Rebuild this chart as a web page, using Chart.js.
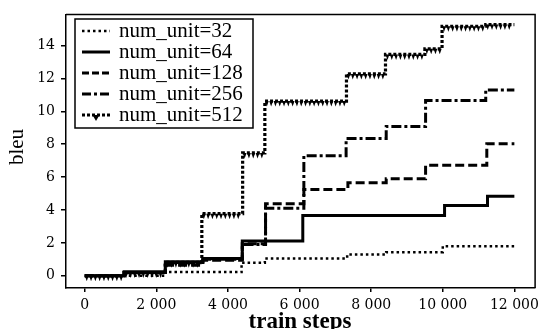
<!DOCTYPE html>
<html>
<head>
<meta charset="utf-8">
<script src="https://cdn.jsdelivr.net/npm/chart.js@4.4.1/dist/chart.umd.min.js"></script>
<style>
  html, body { margin: 0; padding: 0; background: #fff; }
  #wrap { width: 544px; height: 329px; position: relative; }
</style>
</head>
<body>
<div id="wrap"><canvas id="chart"></canvas></div>
<script>
// legend labels, one per model size
const seriesNames = ['num_unit=32', 'num_unit=64', 'num_unit=128', 'num_unit=256', 'num_unit=512'];

// train step where each bleu level starts (last entry closes the line at 12000)
const steps32 = [0, 2250, 4380, 5030, 7330, 8420, 10000, 12000];
const bleu32 = [0, 0.23, 0.8, 1.06, 1.3, 1.44, 1.8, 1.8];

const steps64 = [0, 1100, 2250, 3300, 4400, 6090, 10050, 11250, 12000];
const bleu64 = [0, 0.25, 0.85, 1.05, 2.12, 3.66, 4.28, 4.83, 4.83];

const steps128 = [0, 1100, 2250, 3300, 4400, 5050, 6120, 7350, 8420, 9520, 11230, 12000];
const bleu128 = [0, 0.2, 0.65, 0.95, 1.95, 4.38, 5.25, 5.66, 5.9, 6.72, 8.03, 8.03];

const steps256 = [0, 1100, 2250, 3300, 4400, 5050, 6120, 7300, 8420, 9520, 11200, 12000];
const bleu256 = [0, 0.2, 0.8, 1.0, 1.9, 4.1, 7.3, 8.34, 9.08, 10.65, 11.3, 11.3];

const steps512 = [0, 1100, 2250, 3270, 4410, 5030, 7310, 8400, 9500, 9980, 11200, 12000];
const bleu512 = [0, 0.2, 0.82, 3.78, 7.47, 10.62, 12.27, 13.46, 13.8, 15.17, 15.27, 15.27];

const xTicks = [0, 2000, 4000, 6000, 8000, 10000, 12000];
const yTicks = [0, 2, 4, 6, 8, 10, 12, 14];
const xTitle = 'train steps';
const yTitle = 'bleu';

const allSteps = [steps32, steps64, steps128, steps256, steps512];
const allBleu = [bleu32, bleu64, bleu128, bleu256, bleu512];

// line look per series (same order as seriesNames)
const lineStyles = [
  { borderDash: [2.5, 3], borderWidth: 2.5 },
  { borderDash: [], borderWidth: 3 },
  { borderDash: [9, 4], borderWidth: 3 },
  { borderDash: [10, 3, 3, 3], borderWidth: 3 },
  { borderDash: [3, 2], borderWidth: 3.2 },
];

const datasets = seriesNames.map((name, i) => ({
  label: name,
  data: allSteps[i].map((x, j) => ({ x: x, y: allBleu[i][j] })),
  stepped: true,
  borderColor: '#000',
  borderWidth: lineStyles[i].borderWidth,
  borderDash: lineStyles[i].borderDash,
  borderCapStyle: 'butt',
  pointRadius: 0,
  fill: false,
}));

const fmtThousands = v => String(v).replace(/\B(?=(\d{3})+(?!\d))/g, ' ');

// comb of little triangles under the 512 line
function drawComb(ctx, x0, x1, y) {
  for (let x = x0; x < x1; x += 4.3) {
    ctx.beginPath();
    ctx.moveTo(x - 1.9, y);
    ctx.lineTo(x + 1.9, y);
    ctx.lineTo(x, y + 5.5);
    ctx.closePath();
    ctx.fill();
  }
}

function sampleLine(ctx, i, x0, x1, y) {
  ctx.save();
  ctx.strokeStyle = '#000';
  ctx.lineWidth = i === 0 ? 2.5 : 3;
  const dashes = [[2.5, 3], [], [7, 3], [9, 3, 3, 3], [3, 2]];
  ctx.setLineDash(dashes[i]);
  ctx.beginPath();
  ctx.moveTo(x0, y);
  ctx.lineTo(x1, y);
  ctx.stroke();
  if (i === 4) {
    ctx.setLineDash([]);
    ctx.fillStyle = '#000';
    const cx = (x0 + x1) / 2;
    ctx.beginPath();
    ctx.moveTo(cx - 3.5, y);
    ctx.lineTo(cx + 3.5, y);
    ctx.lineTo(cx, y + 6);
    ctx.closePath();
    ctx.fill();
  }
  ctx.restore();
}

const framePlugin = {
  id: 'framePlugin',
  afterDatasetsDraw(chart) {
    const { ctx, chartArea: a } = chart;
    const pts = chart.getDatasetMeta(4).data;
    ctx.save();
    ctx.beginPath();
    ctx.rect(a.left, a.top, a.right - a.left, a.bottom - a.top);
    ctx.clip();
    ctx.fillStyle = '#000';
    for (let i = 0; i < pts.length - 1; i++) {
      drawComb(ctx, pts[i].x + 2, pts[i + 1].x - 1, pts[i].y);
    }
    ctx.restore();
  },
  afterDraw(chart) {
    const { ctx, chartArea: a } = chart;
    ctx.save();
    // top and right edges of the box
    ctx.strokeStyle = '#000';
    ctx.lineWidth = 1.5;
    ctx.beginPath();
    ctx.moveTo(a.left, a.top);
    ctx.lineTo(a.right, a.top);
    ctx.lineTo(a.right, a.bottom);
    ctx.stroke();

    // legend
    ctx.fillStyle = '#fff';
    ctx.fillRect(75, 19, 178, 109);
    ctx.strokeRect(75, 19, 178, 109);
    ctx.fillStyle = '#000';
    ctx.font = '21px "Liberation Serif"';
    ctx.textAlign = 'left';
    ctx.textBaseline = 'alphabetic';
    seriesNames.forEach((name, i) => {
      const y = 31 + i * 21;
      sampleLine(ctx, i, 82, 110, y);
      ctx.fillText(name, 119, y + 5.5);
    });

    // axis titles
    ctx.font = 'bold 23px "Liberation Serif"';
    ctx.textAlign = 'center';
    ctx.fillText(xTitle, 300, 328);
    ctx.font = '21px "Liberation Serif"';
    ctx.translate(23, 147);
    ctx.rotate(-Math.PI / 2);
    ctx.fillText(yTitle, 0, 0);
    ctx.restore();
  }
};

const tickFont = { family: 'DejaVu Serif', size: 14 };

new Chart(document.getElementById('chart'), {
  type: 'line',
  data: { datasets: datasets },
  options: {
    responsive: true,
    maintainAspectRatio: false,
    animation: false,
    layout: { padding: { top: 12, right: 3, left: 0, bottom: 0 } },
    plugins: { legend: { display: false }, tooltip: { enabled: false } },
    scales: {
      x: {
        type: 'linear',
        min: -524,
        max: 12579,
        afterBuildTicks: s => { s.ticks = xTicks.map(v => ({ value: v })); },
        afterFit: s => { s.height = 41; },
        grid: { drawOnChartArea: false, drawTicks: true, tickLength: 4, color: '#000', lineWidth: 1.5 },
        border: { display: true, color: '#000', width: 1.5 },
        ticks: { color: '#000', padding: 5, maxRotation: 0, autoSkip: false, font: tickFont, callback: v => fmtThousands(v) },
      },
      y: {
        type: 'linear',
        min: -0.74,
        max: 15.89,
        afterBuildTicks: s => { s.ticks = yTicks.map(v => ({ value: v })); },
        afterFit: s => { s.width = 66; },
        grid: { drawOnChartArea: false, drawTicks: true, tickLength: 5, color: '#000', lineWidth: 1.5 },
        border: { display: true, color: '#000', width: 1.5 },
        ticks: { color: '#000', padding: 6, font: tickFont },
      }
    }
  },
  plugins: [framePlugin]
});
</script>
</body>
</html>
